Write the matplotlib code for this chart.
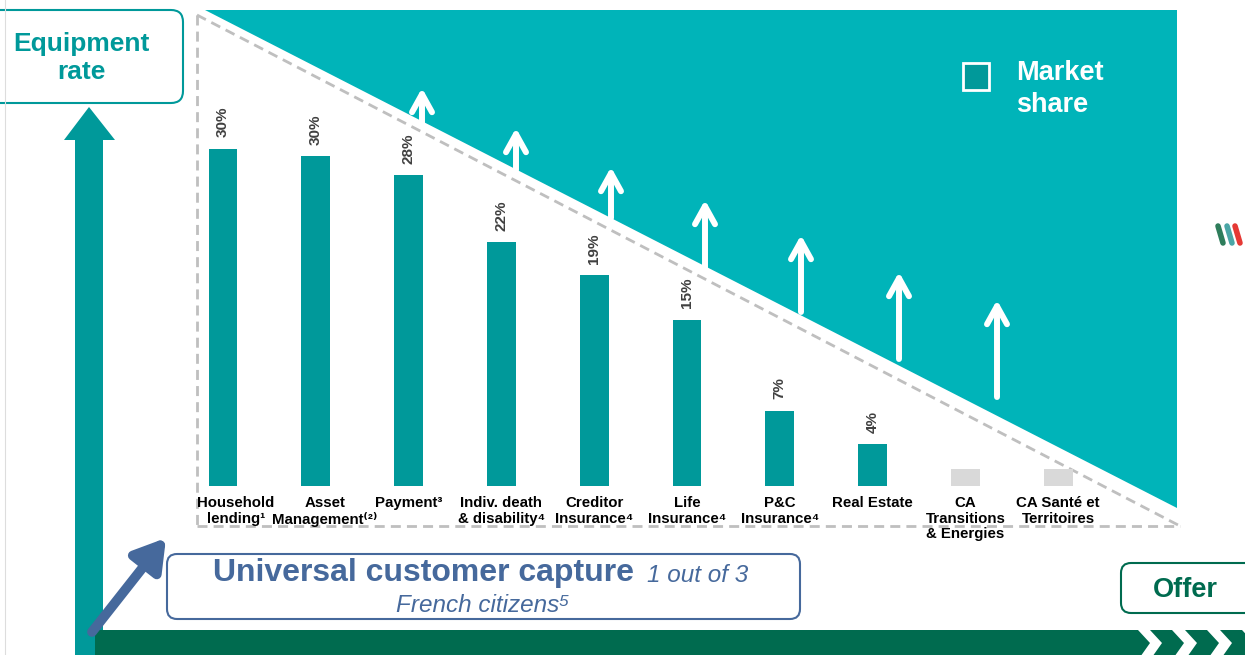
import matplotlib.pyplot as plt
from matplotlib.patches import Polygon, FancyBboxPatch, Rectangle
import numpy as np

plt.rcParams['font.family'] = ['Liberation Sans', 'DejaVu Sans']

# data
categories = ["Household\nlending¹", "Asset\nManagement⁽²⁾", "Payment³",
              "Indiv. death\n& disability⁴", "Creditor\nInsurance⁴", "Life\nInsurance⁴",
              "P&C\nInsurance⁴", "Real Estate", "CA\nTransitions\n& Energies",
              "CA Santé et\nTerritoires"]
share = [30.4, 29.7, 28.0, 22.0, 19.0, 15.0, 6.8, 3.8, 1.5, 1.5]
share_labels = ["30%", "30%", "28%", "22%", "19%", "15%", "7%", "4%", "", ""]
is_new = [False] * 8 + [True, True]

TEAL_BG = "#00B4B9"
TEAL = "#00999A"
GREEN = "#006B4F"
BLUE = "#46699C"
GREY = "#BFBFBF"

W, H = 1245, 655
fig = plt.figure(figsize=(W / 100, H / 100), dpi=100)

# background canvas in pixel coords
bg = fig.add_axes([0, 0, 1, 1])
bg.set_xlim(0, W)
bg.set_ylim(H, 0)
bg.axis("off")

# faint left line
bg.plot([5, 5], [0, H], color="#DDDDDD", lw=0.8)

# market share triangle
bg.add_patch(Polygon([(205, 10), (1177, 10), (1177, 508)], closed=True,
                     color=TEAL_BG, lw=0))

# dashed triangle
dash = dict(color=GREY, lw=2, dashes=(3.6, 2.2))
bg.plot([197, 197], [15, 526], **dash)
bg.plot([197, 1180], [526, 526], **dash)
bg.plot([197, 1180], [15, 526], **dash)

# white upward arrows
arrows = [(422, 123, 88), (516, 170, 128), (611, 218, 167), (705, 268, 200),
          (801, 312, 235), (899, 359, 272), (997, 397, 300)]
for x, y0, y1 in arrows:
    bg.annotate("", xy=(x, y1), xytext=(x, y0),
                arrowprops=dict(arrowstyle="->,head_length=0.65,head_width=0.36",
                                lw=4.3, color="white", mutation_scale=20,
                                shrinkA=0, shrinkB=0))

# legend square + text
bg.add_patch(Rectangle((963, 63), 26, 27, facecolor=TEAL, edgecolor="white", lw=2))
bg.text(1016, 89, "Market\nshare", color="white", fontsize=19.5, fontweight="bold",
        ha="left", va="center", linespacing=1.3)

# equipment rate box + vertical arrow
bg.add_patch(FancyBboxPatch((-20, 10), 203, 93, boxstyle="round,pad=0,rounding_size=12",
                            facecolor="white", edgecolor=TEAL, lw=1.5))
bg.text(81, 58, "Equipment\nrate", color=TEAL, fontsize=19, fontweight="bold",
        ha="center", va="center", linespacing=1.25)
bg.add_patch(Polygon([(75, 660), (75, 140), (64, 140), (89, 107), (115, 140),
                      (103, 140), (103, 660)], closed=True, color=TEAL, lw=0))

# bottom green arrow with chevrons
bg.add_patch(Polygon([(95, 630), (1138, 630), (1150, 643), (1138, 660), (95, 660)],
                     closed=True, color=GREEN, lw=0))
for x0 in [1150, 1185, 1220]:
    bg.add_patch(Polygon([(x0, 630), (x0 + 22, 630), (x0 + 34, 643), (x0 + 22, 660),
                          (x0, 660), (x0 + 12, 643)], closed=True, color=GREEN, lw=0))

# offer box
bg.add_patch(FancyBboxPatch((1121, 563), 140, 50, boxstyle="round,pad=0,rounding_size=10",
                            facecolor="white", edgecolor=GREEN, lw=1.5))
bg.text(1185, 590, "Offer", color=GREEN, fontsize=19.5, fontweight="bold",
        ha="center", va="center")

# universal customer capture box + arrow
bg.add_patch(FancyBboxPatch((167, 554), 633, 65, boxstyle="round,pad=0,rounding_size=10",
                            facecolor="white", edgecolor=BLUE, lw=1.5))
bg.text(634, 573, "Universal customer capture", color=BLUE, fontsize=23,
        fontweight="bold", ha="right", va="center")
bg.text(647, 575, "1 out of 3", color=BLUE, fontsize=17.5, style="italic",
        ha="left", va="center")
bg.text(483, 606, "French citizens⁵", color=BLUE, fontsize=17.5, style="italic",
        ha="center", va="center")
bg.annotate("", xy=(166, 538), xytext=(92, 632),
            arrowprops=dict(arrowstyle="-|>,head_length=0.9,head_width=0.55",
                            lw=7, color=BLUE, mutation_scale=20, shrinkA=0, shrinkB=0))

# logo
for dx, c in [(0, "#2E7D5B"), (9, "#4AA6A6"), (17, "#E53935")]:
    bg.plot([1218 + dx, 1223 + dx], [226, 243], color=c, lw=4, solid_capstyle="round")

# bars in their own axes
L, R, base, top = 176.6, 1104.6, 486, 10
ax = fig.add_axes([L / W, (H - base) / H, (R - L) / W, (base - top) / H])
ax.patch.set_alpha(0)
ax.axis("off")
x = np.arange(len(categories))
colors = ["#D9D9D9" if n else TEAL for n in is_new]
ax.bar(x, share, width=0.31, color=colors)
ax.set_xlim(-0.5, len(categories) - 0.5)
ax.set_ylim(0, (base - top) / 11.1)

for i, (v, lab) in enumerate(zip(share, share_labels)):
    if lab:
        ax.text(i, v + 1.0, lab, rotation=90, ha="center", va="bottom",
                fontsize=11, fontweight="bold", color="#404040")
    dx = {0: 0.14, 1: 0.1}.get(i, 0)
    ax.text(i + dx, -0.9, categories[i], ha="center", va="top", fontsize=10.8,
            fontweight="bold", color="black", linespacing=1.15, clip_on=False)

fig.savefig("out.png", dpi=100)
